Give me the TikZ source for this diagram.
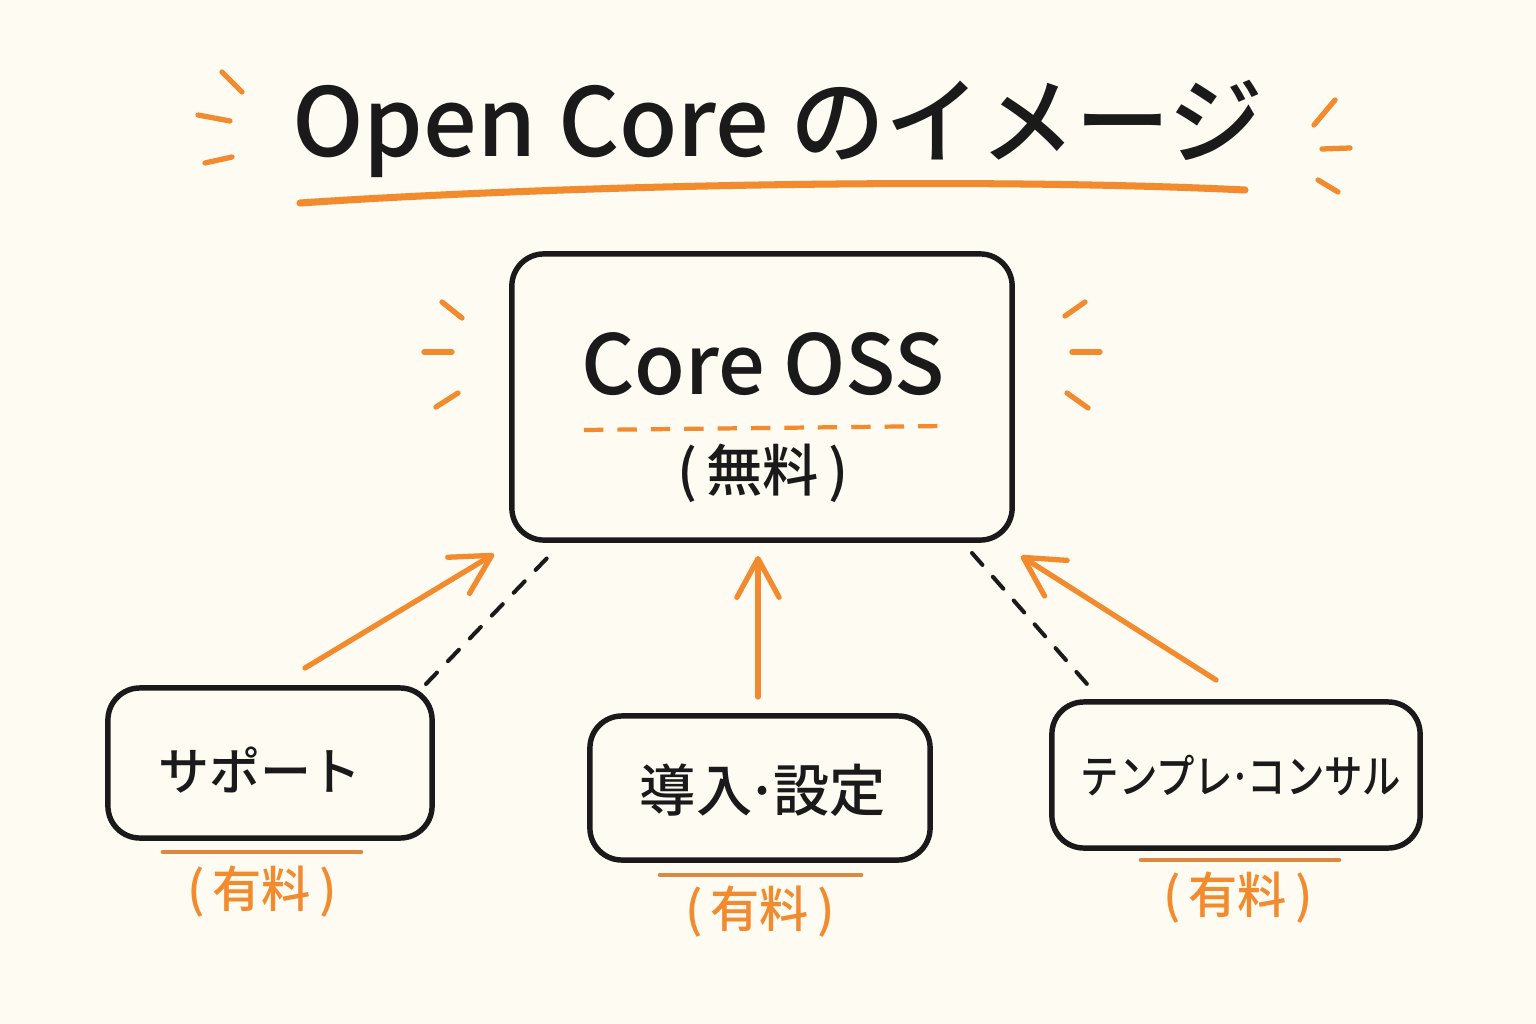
\documentclass[tikz,border=0pt]{standalone}
\usepackage{fontspec}
\setmainfont{Noto Sans CJK JP}
\newfontfamily\medfont{Noto Sans CJK JP Medium}
\usetikzlibrary{arrows.meta}
\definecolor{bg}{HTML}{FDFBF2}
\definecolor{org}{HTML}{F28A2E}
\definecolor{orgd}{HTML}{DC8840}
\definecolor{ink}{HTML}{1A1A1A}
\begin{document}
\begin{tikzpicture}[x=0.01cm,y=-0.01cm,
  box/.style={draw=ink,line width=1.55pt,rounded corners=0.32cm,inner sep=0pt},
  burst/.style={draw=org,line width=1.5pt,line cap=round},
  arr/.style={draw=org,line width=1.5pt,line cap=round,-{Straight Barb[length=11pt,width=12pt,line width=1.5pt,round]}},
  dline/.style={draw=ink,line width=1.15pt,line cap=round,dash pattern=on 4.5pt off 4.5pt},
  uline/.style={draw=orgd,line width=1.3pt,line cap=round},
  lbl/.style={inner sep=0pt,text=ink},
  paid/.style={inner sep=0pt,text=org,font=\medfont\fontsize{14}{16}\selectfont}]
\fill[bg] (0,0) rectangle (1536,1024);
\useasboundingbox (0,0) rectangle (1536,1024);
% title
\node[lbl,font=\medfont\fontsize{27}{32}\selectfont] (title) at (778,129) {Open Core のイメージ};
\draw[org,line width=2pt,line cap=round] (300,203) .. controls (600,183) and (1000,178) .. (1245,190);
\draw[burst] (222,72) -- (242,92);
\draw[burst] (198,115) -- (230,121);
\draw[burst] (205,163) -- (232,157);
\draw[burst] (1335,100) -- (1314,125);
\draw[burst] (1322,149) -- (1350,148);
\draw[burst] (1318,180) -- (1338,192);
% core box
\node[box,minimum width=5.00cm,minimum height=2.86cm] (core) at (762,397) {};
\node[lbl,font=\medfont\fontsize{23.5}{28}\selectfont] (coret) at (763,364) {Core OSS};
\draw[org,line width=1.2pt,dash pattern=on 5.5pt off 4pt] (584,430) -- (945,426);
\node[lbl,font=\medfont\fontsize{16}{20}\selectfont] (free) at (763,473) {(\,無料\,)};
\draw[burst] (442,302) -- (462,318);
\draw[burst] (424,352) -- (452,352);
\draw[burst] (436,407) -- (458,393);
\draw[burst] (1085,302) -- (1065,316);
\draw[burst] (1072,352) -- (1100,352);
\draw[burst] (1067,393) -- (1088,408);
% bottom boxes
\node[box,minimum width=3.24cm,minimum height=1.50cm] (sup) at (270,763) {};
\node[lbl,font=\medfont\fontsize{14.5}{18}\selectfont] (supt) at (260,770) {サポート};
\node[box,minimum width=3.40cm,minimum height=1.44cm] (imp) at (760,788) {};
\node[lbl,font=\medfont\fontsize{16}{20}\selectfont] (impt) at (763,790) {導入{\kern-0.1em}·{\kern-0.1em}設定};
\node[box,minimum width=3.68cm,minimum height=1.46cm] (tmp) at (1236,775) {};
\node[lbl,font=\medfont\fontsize{13}{16}\selectfont] (tmpt) at (1241,776) {\scalebox{0.84}[1]{テンプレ{\kern-0.1em}·{\kern-0.1em}コンサル}};
% paid labels
\draw[uline] (163,852) -- (361,852);
\node[paid] (p1) at (262,892) {(\,有料\,)};
\draw[uline] (660,875) -- (861,875);
\node[paid] (p2) at (760,912) {(\,有料\,)};
\draw[uline] (1141,860) -- (1339,860);
\node[paid] (p3) at (1238,898) {(\,有料\,)};
% arrows
\coordinate (a1s) at (305,668);
\coordinate (a1e) at (494,554);
\coordinate (a2s) at (758,697);
\coordinate (a2e) at (758,556);
\coordinate (a3s) at (1216,680);
\coordinate (a3e) at (1021,556);
\draw[arr] (a1s) -- (a1e);
\draw[arr] (a2s) -- (a2e);
\draw[arr] (a3s) -- (a3e);
% dashed links
\coordinate (d1s) at (426,684);
\coordinate (d1e) at (550,555);
\coordinate (d2s) at (972,553);
\coordinate (d2e) at (1094,692);
\draw[dline] (d1s) -- (d1e);
\draw[dline] (d2s) -- (d2e);
\end{tikzpicture}
\end{document}
